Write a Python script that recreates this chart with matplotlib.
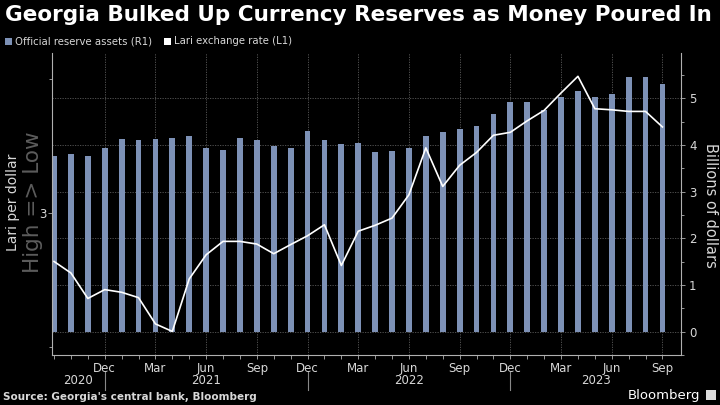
import matplotlib
matplotlib.use("Agg")
import matplotlib.pyplot as plt
from matplotlib.patches import Rectangle
import pandas as pd

plt.rcParams['font.family'] = ['DejaVu Sans']

# ---- data ----
months = list(pd.period_range('2020-09', '2023-09', freq='M'))
reserves = [3.77, 3.80, 3.76, 3.93, 4.12, 4.10, 4.12, 4.15, 4.18, 3.93, 3.90, 4.14,
            4.10, 3.97, 3.94, 4.29, 4.10, 4.01, 4.05, 3.85, 3.87, 3.94, 4.18, 4.28,
            4.34, 4.41, 4.66, 4.92, 4.92, 4.74, 5.02, 5.16, 5.02, 5.09, 5.46, 5.46, 5.30]
lari = [3.181, 3.224, 3.319, 3.286, 3.296, 3.316, 3.414, 3.442, 3.246, 3.156, 3.106, 3.106,
        3.116, 3.152, 3.118, 3.085, 3.044, 3.196, 3.068, 3.046, 3.019, 2.932, 2.757, 2.901,
        2.822, 2.774, 2.710, 2.699, 2.656, 2.617, 2.552, 2.490, 2.611, 2.615, 2.621, 2.621, 2.679]
right_ticks = [0, 1, 2, 3, 4, 5]
left_major = [3]
left_minor = [2.5, 3.5]

BG = 'black'
BAR = '#7d91b6'
GRID = '#5a5a5a'
SPINE = '#b0b0b0'
TXT = '#d8d8d8'

W, H = 720, 405
fig = plt.figure(figsize=(7.2, 4.05), dpi=100, facecolor=BG)

x0, x1, y0, y1 = 52, 680.7, 53, 355
ax = fig.add_axes([x0 / W, 1 - y1 / H, (x1 - x0) / W, (y1 - y0) / H])
ax.set_facecolor(BG)
ax2 = ax.twinx()

x = list(range(len(months)))
ax.bar(x, reserves, width=0.34, color=BAR, zorder=2)
ax.set_xlim(-0.12, 37.08)
ax.set_ylim(-0.485, 5.968)

# right axis (bars)
ax.yaxis.tick_right()
ax.yaxis.set_label_position('right')
ax.set_yticks(right_ticks)
ax.set_yticks([v + 0.5 for v in range(-1, 6)], minor=True)
ax.tick_params(axis='y', which='both', colors=SPINE, labelcolor=TXT, labelsize=8.5,
               direction='out', length=3, width=0.6, pad=3, left=False, labelleft=False)
ax.tick_params(axis='y', which='minor', length=2)

# x axis
major_idx = [i for i, m in enumerate(months) if m.month in (3, 6, 9, 12) and i > 0]
ax.set_xticks(major_idx)
ax.set_xticklabels([months[i].strftime('%b') for i in major_idx])
ax.set_xticks(x, minor=True)
ax.tick_params(axis='x', which='both', colors=SPINE, labelcolor=TXT, labelsize=8.5,
               direction='out', length=3, width=0.6, pad=2)

ax.grid(True, which='major', color=GRID, linestyle=(0, (1.5, 1.5)), linewidth=0.6, zorder=0)

ax.spines['top'].set_visible(False)
for s in ('left', 'right', 'bottom'):
    ax.spines[s].set_color(SPINE)
    ax.spines[s].set_linewidth(0.8)

# left axis (lari, inverted)
ax2.plot(x, lari, color='white', linewidth=1.2, zorder=3)
ax2.set_ylim(3.530, 2.403)
ax2.yaxis.tick_left()
ax2.set_yticks(left_major)
ax2.set_yticks(left_minor, minor=True)
ax2.tick_params(axis='y', which='both', colors=SPINE, labelcolor=TXT, labelsize=8.5,
                direction='out', length=3, width=0.6, pad=1, right=False, labelright=False)
ax2.tick_params(axis='y', which='minor', length=2)
for s in ax2.spines.values():
    s.set_visible(False)

# year labels and separators
trans = ax.get_xaxis_transform()
xl = ax.get_xlim()
years = sorted(set(m.year for m in months))
for yv in years:
    idx = [i for i, m in enumerate(months) if m.year == yv]
    lo = xl[0] if idx[0] == 0 else idx[0] - 1
    hi = idx[-1] if months[idx[-1]].month == 12 else xl[1]
    ax.text((lo + hi) / 2, -26 / (y1 - y0), str(yv), transform=trans,
            ha='center', va='center', color=TXT, fontsize=8.5)
    if hi < xl[1] - 0.5:
        ax.plot([hi, hi], [-17 / (y1 - y0), -35 / (y1 - y0)], transform=trans,
                color='#888888', linewidth=0.8, clip_on=False)

# titles and labels
fig.text(5 / W, 1 - 15 / H, 'Georgia Bulked Up Currency Reserves as Money Poured In',
         color='white', fontsize=15.5, fontweight='bold', ha='left', va='center')

fig.patches.append(Rectangle((5 / W, 1 - 45 / H), 7 / W, 7 / H, transform=fig.transFigure,
                             facecolor=BAR, edgecolor='none'))
fig.text(15 / W, 1 - 41.5 / H, 'Official reserve assets (R1)', color=TXT, fontsize=7.3,
         ha='left', va='center')
fig.patches.append(Rectangle((164 / W, 1 - 45 / H), 7 / W, 7 / H, transform=fig.transFigure,
                             facecolor='white', edgecolor='none'))
fig.text(174 / W, 1 - 41.5 / H, 'Lari exchange rate (L1)', color=TXT, fontsize=7.3,
         ha='left', va='center')

fig.text(13 / W, 1 - 202 / H, 'Lari per dollar', color=TXT, fontsize=10,
         rotation=90, ha='center', va='center')
fig.text(33 / W, 1 - 202 / H, 'High => Low', color='#5c5c5c', fontsize=15.5,
         rotation=90, ha='center', va='center')
fig.text(711 / W, 1 - 205 / H, 'Billions of dollars', color=TXT, fontsize=10.5,
         rotation=270, ha='center', va='center')

fig.text(3 / W, 1 - 397 / H, "Source: Georgia's central bank, Bloomberg", color=TXT,
         fontsize=7.5, fontweight='bold', ha='left', va='center')
fig.text(700 / W, 1 - 395 / H, 'Bloomberg', color='white', fontsize=9.5,
         ha='right', va='center')
fig.patches.append(Rectangle((706 / W, 1 - 400 / H), 10 / W, 10 / H, transform=fig.transFigure,
                             facecolor='#dddddd', edgecolor='none'))

fig.savefig('out.png', dpi=100, facecolor=BG)
